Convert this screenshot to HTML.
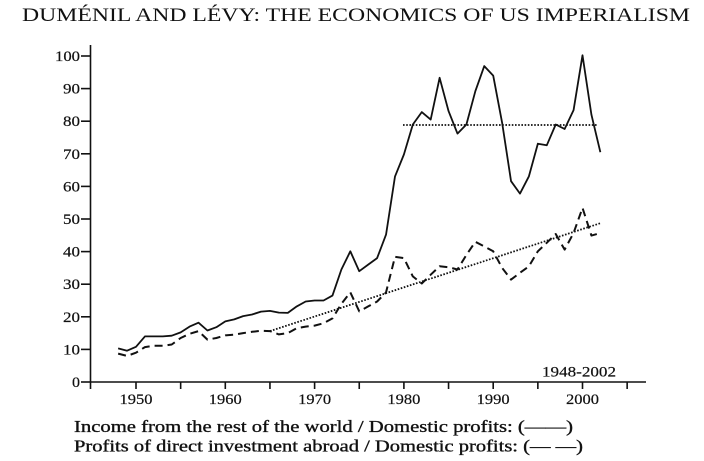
<!DOCTYPE html>
<html>
<head>
<meta charset="utf-8">
<style>
  html, body { margin: 0; padding: 0; background: #fff; }
  svg { display: block; }
  text { font-family: "Liberation Serif", "DejaVu Serif", serif; fill: #111; }
</style>
</head>
<body>
<svg width="704" height="461" viewBox="0 0 704 461" xmlns="http://www.w3.org/2000/svg">
  <rect width="704" height="461" fill="#fff"/>

  <!-- Title -->
  <text x="22" y="21" font-size="19" textLength="668" lengthAdjust="spacingAndGlyphs">DUMÉNIL AND LÉVY: THE ECONOMICS OF US IMPERIALISM</text>

  <!-- Axes -->
  <g stroke="#111" stroke-width="1.6" fill="none">
    <line x1="90.5" y1="45" x2="90.5" y2="389"/>
    <line x1="90" y1="382" x2="646" y2="382"/>
    <!-- y ticks -->
    <line x1="81" y1="382" x2="90" y2="382"/>
    <line x1="81" y1="349.4" x2="90" y2="349.4"/>
    <line x1="81" y1="316.8" x2="90" y2="316.8"/>
    <line x1="81" y1="284.2" x2="90" y2="284.2"/>
    <line x1="81" y1="251.6" x2="90" y2="251.6"/>
    <line x1="81" y1="219" x2="90" y2="219"/>
    <line x1="81" y1="186.4" x2="90" y2="186.4"/>
    <line x1="81" y1="153.8" x2="90" y2="153.8"/>
    <line x1="81" y1="121.2" x2="90" y2="121.2"/>
    <line x1="81" y1="88.6" x2="90" y2="88.6"/>
    <line x1="81" y1="56" x2="90" y2="56"/>
    <!-- x ticks -->
    <line x1="136" y1="382" x2="136" y2="389"/>
    <line x1="180.65" y1="382" x2="180.65" y2="389"/>
    <line x1="225.3" y1="382" x2="225.3" y2="389"/>
    <line x1="269.95" y1="382" x2="269.95" y2="389"/>
    <line x1="314.6" y1="382" x2="314.6" y2="389"/>
    <line x1="359.25" y1="382" x2="359.25" y2="389"/>
    <line x1="403.9" y1="382" x2="403.9" y2="389"/>
    <line x1="448.55" y1="382" x2="448.55" y2="389"/>
    <line x1="493.2" y1="382" x2="493.2" y2="389"/>
    <line x1="537.85" y1="382" x2="537.85" y2="389"/>
    <line x1="582.5" y1="382" x2="582.5" y2="389"/>
    <line x1="627.15" y1="382" x2="627.15" y2="389"/>
  </g>

  <!-- y labels -->
  <g font-size="15" text-anchor="end" stroke="#111" stroke-width="0.2">
    <text x="80" y="387" textLength="8" lengthAdjust="spacingAndGlyphs">0</text>
    <text x="80" y="354.4" textLength="17" lengthAdjust="spacingAndGlyphs">10</text>
    <text x="80" y="321.8" textLength="17" lengthAdjust="spacingAndGlyphs">20</text>
    <text x="80" y="289.2" textLength="17" lengthAdjust="spacingAndGlyphs">30</text>
    <text x="80" y="256.6" textLength="17" lengthAdjust="spacingAndGlyphs">40</text>
    <text x="80" y="224" textLength="17" lengthAdjust="spacingAndGlyphs">50</text>
    <text x="80" y="191.4" textLength="17" lengthAdjust="spacingAndGlyphs">60</text>
    <text x="80" y="158.8" textLength="17" lengthAdjust="spacingAndGlyphs">70</text>
    <text x="80" y="126.2" textLength="17" lengthAdjust="spacingAndGlyphs">80</text>
    <text x="80" y="93.6" textLength="17" lengthAdjust="spacingAndGlyphs">90</text>
    <text x="80" y="61" textLength="25" lengthAdjust="spacingAndGlyphs">100</text>
  </g>

  <!-- x labels -->
  <g font-size="15" text-anchor="middle" stroke="#111" stroke-width="0.2">
    <text x="136" y="404" textLength="33" lengthAdjust="spacingAndGlyphs">1950</text>
    <text x="225.3" y="404" textLength="33" lengthAdjust="spacingAndGlyphs">1960</text>
    <text x="314.6" y="404" textLength="33" lengthAdjust="spacingAndGlyphs">1970</text>
    <text x="403.9" y="404" textLength="33" lengthAdjust="spacingAndGlyphs">1980</text>
    <text x="493.2" y="404" textLength="33" lengthAdjust="spacingAndGlyphs">1990</text>
    <text x="582.5" y="404" textLength="33" lengthAdjust="spacingAndGlyphs">2000</text>
  </g>

  <text x="542" y="376.5" font-size="14.5" textLength="74" lengthAdjust="spacingAndGlyphs" stroke="#111" stroke-width="0.2">1948-2002</text>

  <!-- Trend dotted lines -->
  <g stroke="#111" stroke-width="1.8" fill="none" stroke-dasharray="1.6 1.6">
    <line x1="403" y1="125" x2="598" y2="125"/>
    <line x1="269.95" y1="331.1" x2="600.36" y2="223.2"/>
  </g>

  <!-- Solid series -->
  <polyline fill="none" stroke="#111" stroke-width="1.8" stroke-linejoin="round"
    points="118.14,348.4 127.07,350.7 136,346.8 144.93,336.4 153.86,336.4 162.79,336.4 171.72,335.7 180.65,332.4 189.58,326.6 198.51,322.7 207.44,330.5 216.37,327.2 225.3,321.4 234.23,319.4 243.16,316.1 252.09,314.5 261.02,311.6 269.95,310.9 278.88,312.6 287.81,312.9 296.74,306.4 305.67,301.5 314.6,300.5 323.53,300.5 332.46,295.6 341.39,269.5 350.32,251.3 359.25,271.2 368.18,264.6 377.11,258.1 386.04,234.6 394.97,176.6 403.9,154.5 412.83,124.5 421.76,112.1 430.69,119.6 439.62,77.8 448.55,111.1 457.48,133.6 466.41,124.5 475.34,91.2 484.27,66.1 493.2,75.6 502.13,122.8 511.06,181.2 519.99,193.6 528.92,176.3 537.85,143.7 546.78,145.3 555.71,124.5 564.64,129 573.57,110.1 582.5,55.3 591.43,114.7 600.36,152.2"/>

  <!-- Dashed series -->
  <polyline fill="none" stroke="#111" stroke-width="2" stroke-dasharray="8 5" stroke-linejoin="round"
    points="118.14,353.6 127.07,355.9 136,352.7 144.93,347.1 153.86,345.8 162.79,345.8 171.72,344.5 180.65,338 189.58,333.8 198.51,331.1 207.44,339.6 216.37,338 225.3,335.4 234.23,334.7 243.16,333.1 252.09,331.8 261.02,330.8 269.95,331.1 278.88,334.4 287.81,333.1 296.74,328.2 305.67,326.6 314.6,325.6 323.53,323.3 332.46,318.4 341.39,303.8 350.32,292.4 359.25,311.3 368.18,306.4 377.11,301.5 386.04,292.4 394.97,256.8 403.9,258.1 412.83,276.4 421.76,283.5 430.69,274.7 439.62,266.3 448.55,267.2 457.48,269.5 466.41,254.9 475.34,241.8 484.27,246.4 493.2,251.3 502.13,267.9 511.06,279.6 519.99,272.8 528.92,266.3 537.85,251.3 546.78,242.8 555.71,234 564.64,249.6 573.57,233 582.5,207.9 591.43,235.6 600.36,233"/>

  <!-- Legend -->
  <g font-size="16.5" stroke="#111" stroke-width="0.35">
    <text x="74" y="432" textLength="499" lengthAdjust="spacingAndGlyphs">Income from the rest of the world / Domestic profits: (——)</text>
    <text x="74" y="451.5" textLength="509" lengthAdjust="spacingAndGlyphs">Profits of direct investment abroad / Domestic profits: (— —)</text>
  </g>
</svg>
</body>
</html>
